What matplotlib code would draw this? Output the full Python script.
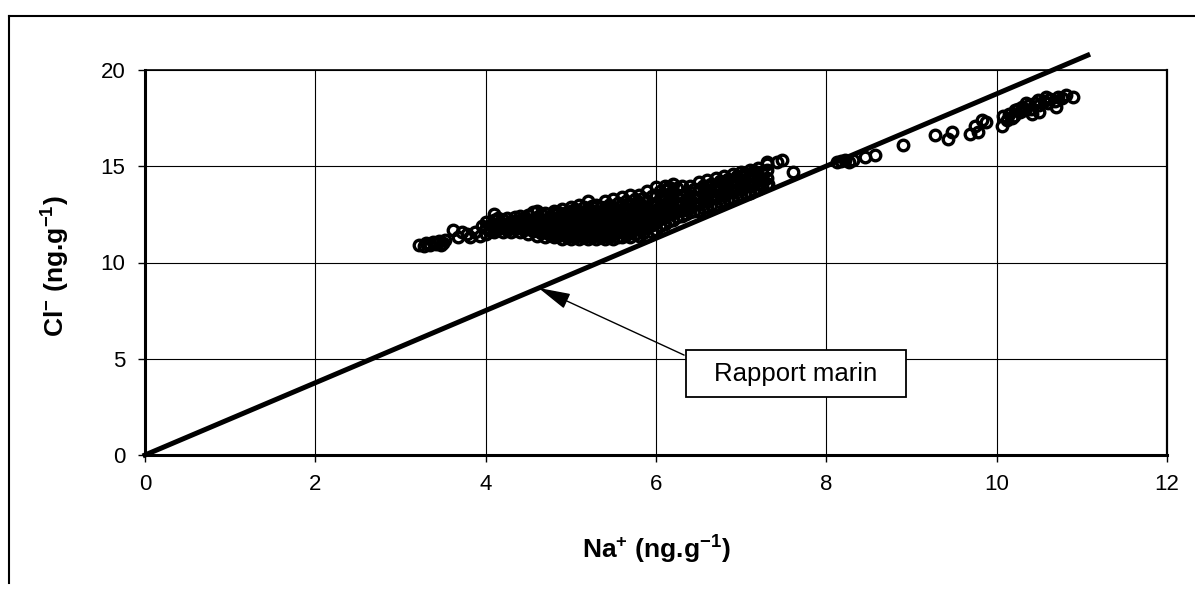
import matplotlib
matplotlib.use('Agg')
import matplotlib.pyplot as plt
from matplotlib.lines import Line2D
from matplotlib.patches import Rectangle

plt.rcParams['font.family'] = ['Liberation Sans', 'DejaVu Sans']
plt.rcParams['mathtext.fontset'] = 'custom'
plt.rcParams['mathtext.rm'] = 'Liberation Sans'
plt.rcParams['mathtext.bf'] = 'Liberation Sans:bold'

# low end of the series (dense, grey-looking)
low_na = [3.22, 3.28, 3.30, 3.33, 3.35, 3.38, 3.40, 3.42, 3.45, 3.47, 3.50, 3.52,
          3.62, 3.68, 3.72, 3.78, 3.82, 3.88, 3.93, 3.96]
low_cl = [10.90, 10.85, 11.00, 10.95, 10.90, 11.05, 11.00, 10.95, 11.10, 10.90, 11.00, 11.15,
          11.70, 11.30, 11.60, 11.50, 11.30, 11.60, 11.40, 11.90]

# main band, one Na value per column with the Cl values read in that column
band_na = [4.00, 4.05, 4.10, 4.15, 4.20, 4.25, 4.30, 4.35, 4.40, 4.45,
           4.50, 4.55, 4.60, 4.65, 4.70, 4.75, 4.80, 4.85, 4.90, 4.95,
           5.00, 5.05, 5.10, 5.15, 5.20, 5.25, 5.30, 5.35, 5.40, 5.45,
           5.50, 5.55, 5.60, 5.65, 5.70, 5.75, 5.80, 5.85, 5.90, 5.95,
           6.00, 6.05, 6.10, 6.15, 6.20, 6.25, 6.30, 6.35, 6.40, 6.45,
           6.50, 6.55, 6.60, 6.65, 6.70, 6.75, 6.80, 6.85, 6.90, 6.95,
           7.00, 7.05, 7.10, 7.15, 7.20, 7.25, 7.30]
band_cl = [
    [11.5, 11.8, 12.1], [11.65, 11.95], [11.6, 11.9, 12.2, 12.5], [11.75, 12.05, 12.3],
    [11.6, 11.9, 12.2], [11.7, 12.0, 12.3], [11.6, 11.85, 12.15], [11.75, 12.05, 12.35],
    [11.6, 11.9, 12.2, 12.4], [11.7, 12.0, 12.3],
    [11.5, 11.8, 12.1, 12.45], [11.65, 11.95, 12.25, 12.6], [11.4, 11.7, 12.0, 12.35, 12.7],
    [11.55, 11.85, 12.15, 12.5], [11.3, 11.6, 11.9, 12.2, 12.55], [11.45, 11.75, 12.05, 12.4],
    [11.3, 11.6, 11.9, 12.2, 12.5, 12.7], [11.4, 11.75, 12.05, 12.35, 12.6],
    [11.2, 11.5, 11.85, 12.15, 12.45, 12.8], [11.35, 11.65, 11.95, 12.3, 12.6],
    [11.2, 11.5, 11.8, 12.1, 12.4, 12.7, 12.9], [11.35, 11.65, 11.95, 12.25, 12.55, 12.8],
    [11.2, 11.5, 11.8, 12.1, 12.4, 12.7, 13.0], [11.35, 11.65, 11.95, 12.3, 12.6, 12.9],
    [11.2, 11.5, 11.8, 12.1, 12.45, 12.8, 13.2], [11.3, 11.6, 11.95, 12.25, 12.6, 12.95],
    [11.2, 11.5, 11.8, 12.1, 12.4, 12.7, 13.0], [11.35, 11.65, 11.95, 12.3, 12.6, 12.9],
    [11.2, 11.5, 11.8, 12.15, 12.5, 12.85, 13.2], [11.3, 11.65, 12.0, 12.3, 12.65, 13.0],
    [11.2, 11.5, 11.85, 12.2, 12.55, 12.9, 13.3], [11.35, 11.7, 12.05, 12.4, 12.75, 13.1],
    [11.3, 11.6, 11.95, 12.3, 12.65, 13.0, 13.4], [11.45, 11.8, 12.15, 12.5, 12.85, 13.2],
    [11.3, 11.65, 12.0, 12.35, 12.7, 13.05, 13.5], [11.5, 11.85, 12.2, 12.55, 12.9, 13.3],
    [11.4, 11.75, 12.1, 12.45, 12.8, 13.15, 13.5], [11.55, 11.9, 12.25, 12.6, 12.95, 13.35],
    [11.4, 11.8, 12.15, 12.5, 12.85, 13.2, 13.7], [11.6, 11.95, 12.3, 12.65, 13.0, 13.45],
    [11.7, 12.05, 12.4, 12.75, 13.1, 13.5, 13.9], [11.9, 12.25, 12.6, 12.95, 13.3, 13.7],
    [12.0, 12.35, 12.7, 13.05, 13.4, 13.75, 14.0], [12.15, 12.5, 12.85, 13.2, 13.55, 13.9],
    [12.2, 12.55, 12.9, 13.25, 13.6, 14.1], [12.35, 12.7, 13.05, 13.45, 13.85],
    [12.4, 12.75, 13.1, 13.5, 14.0], [12.5, 12.85, 13.2, 13.6],
    [12.6, 12.95, 13.3, 13.65, 14.0], [12.7, 13.05, 13.4, 13.8],
    [12.7, 13.05, 13.4, 13.8, 14.2], [12.85, 13.2, 13.55, 13.95],
    [12.9, 13.25, 13.6, 13.95, 14.3], [13.0, 13.35, 13.7, 14.1],
    [13.0, 13.35, 13.7, 14.05, 14.4], [13.15, 13.5, 13.85, 14.25],
    [13.2, 13.55, 13.9, 14.2, 14.5], [13.3, 13.65, 14.0, 14.35],
    [13.3, 13.65, 14.0, 14.3, 14.6], [13.45, 13.8, 14.15, 14.5],
    [13.5, 13.85, 14.2, 14.5, 14.7], [13.6, 13.95, 14.3, 14.65],
    [13.6, 13.95, 14.3, 14.6, 14.8], [13.75, 14.1, 14.45, 14.75],
    [13.8, 14.1, 14.45, 14.9], [14.0, 14.3, 14.65], [14.1, 14.4, 14.8, 15.1],
]

# upper tail, high Na
high_na = [7.26, 7.32, 7.30, 7.42, 7.48, 7.61,
           8.12, 8.17, 8.22, 8.27, 8.31, 8.45, 8.57, 8.90, 9.28, 9.43, 9.47,
           9.69, 9.78, 9.75, 9.83, 9.87, 10.06, 10.08,
           10.12, 10.15, 10.18, 10.20, 10.22, 10.25, 10.27, 10.30, 10.33, 10.35,
           10.38, 10.40, 10.45, 10.48, 10.50, 10.55, 10.58, 10.60, 10.63, 10.68,
           10.72, 10.77, 10.81, 10.41, 10.50, 10.70, 10.90]
high_cl = [14.3, 14.1, 15.2, 15.2, 15.3, 14.7,
           15.2, 15.25, 15.3, 15.2, 15.3, 15.5, 15.6, 16.1, 16.6, 16.4, 16.8,
           16.7, 16.8, 17.1, 17.4, 17.3, 17.1, 17.6,
           17.4, 17.7, 17.5, 17.6, 17.9, 18.0, 17.8, 18.1, 17.9, 18.3,
           18.2, 18.0, 18.3, 18.45, 18.2, 18.4, 18.6, 18.3, 18.5, 18.4,
           18.6, 18.55, 18.7, 17.7, 17.8, 18.1, 18.6]

# marine ratio line
ratio_na = [0, 11.07]
ratio_cl = [0, 20.77]

na = list(low_na)
cl = list(low_cl)
for x, ys in zip(band_na, band_cl):
    na += [x] * len(ys)
    cl += ys
na += high_na
cl += high_cl

fig = plt.figure(figsize=(11.95, 6.06), dpi=100)
ax = fig.add_axes([145 / 1195, 151 / 606, 1022 / 1195, 385 / 606])

ax.plot(ratio_na, ratio_cl, color='black', linewidth=3.6, clip_on=False, zorder=3)
ax.plot(na, cl, linestyle='none', marker='o', markersize=7.6,
        markerfacecolor='none', markeredgecolor='black', markeredgewidth=2.4, zorder=4)

ax.set_xlim(0, 12)
ax.set_ylim(0, 20)
ax.set_xticks(range(0, 13, 2))
ax.set_yticks(range(0, 21, 5))
ax.grid(True, color='black', linewidth=0.8)
ax.set_axisbelow(True)
ax.tick_params(direction='out', length=5, width=1, pad=9, labelsize=16, color='black')
ax.spines['left'].set_linewidth(2.2)
ax.spines['bottom'].set_linewidth(2.2)
ax.spines['right'].set_linewidth(1.6)
ax.spines['top'].set_linewidth(1.2)

ax.set_xlabel(r'Na$^{\mathbf{+}}$ (ng.g$^{\mathbf{-1}}$)', fontsize=19, fontweight='bold')
ax.set_ylabel(r'Cl$^{\mathbf{-}}$ (ng.g$^{\mathbf{-1}}$)', fontsize=19, fontweight='bold')
ax.xaxis.set_label_coords(0.5, -0.2)
ax.yaxis.set_label_coords(-0.072, 0.49)

# label box for the marine ratio line
ax.add_patch(Rectangle((6.35, 3.01), 2.59, 2.44, facecolor='white', edgecolor='black',
                       linewidth=1.3, zorder=5))
ax.text(7.64, 4.2, 'Rapport marin', fontsize=18.5, ha='center', va='center', zorder=6)
ax.annotate('', xy=(4.62, 8.68), xytext=(6.33, 5.19),
            arrowprops=dict(arrowstyle='-|>,head_length=2.0,head_width=0.5', color='black',
                            linewidth=1.0, shrinkA=0, shrinkB=0), zorder=6)

# outer frame (top and left edges of the scanned border)
fig.add_artist(Line2D([9 / 1195, 9 / 1195], [1 - 583 / 606, 1 - 16 / 606], color='black', linewidth=1.5))
fig.add_artist(Line2D([9 / 1195, 1.0], [1 - 16 / 606, 1 - 16 / 606], color='black', linewidth=1.5))

fig.savefig('out.png', dpi=100, facecolor='white')
